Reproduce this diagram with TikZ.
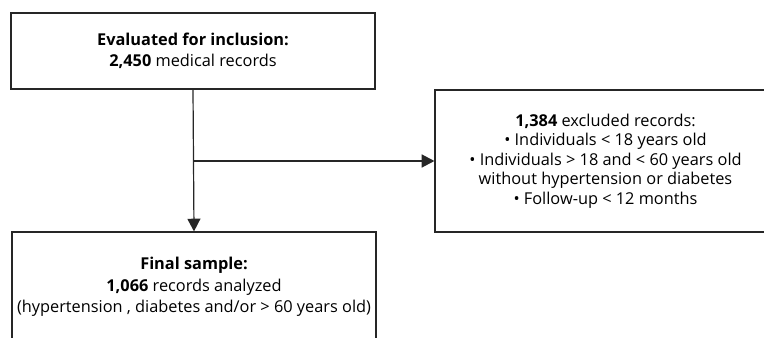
\documentclass[tikz,border=0pt]{standalone}
\usepackage{fontspec}
\setmainfont{Open Sans}
\usetikzlibrary{arrows.meta}
\begin{document}
\begin{tikzpicture}[x=0.75pt,y=-0.75pt,
  box/.style={draw=black!85, line width=0.9pt, align=center, inner sep=0pt, font=\fontsize{12.25}{16.1}\selectfont},
  conn/.style={draw=black!85, line width=0.9pt},
  arr/.style={conn, -{Triangle[length=9.5pt,width=9.75pt]}}]
\useasboundingbox (0,0) rectangle (764,338);
\clip (0,0) rectangle (764,338);
\node[box, minimum width=273pt, minimum height=57pt] (eval) at (193,51)
  {\textbf{Evaluated for inclusion:}\\\textbf{2,450} medical records};
\node[box, minimum width=273pt, minimum height=82.5pt] (final) at (194,287)
  {\textbf{Final sample:}\\\textbf{1,066} records analyzed\\(hypertension , diabetes and/or > 60 years old)};
\node[box, minimum width=255.75pt, minimum height=106.5pt, font=\fontsize{12.25}{14.7}\selectfont] (excl) at (605.5,161)
  {\textbf{1,384} excluded records:\\• Individuals < 18 years old\\• Individuals > 18 and < 60 years old\\without hypertension or diabetes\\• Follow-up < 12 months};
\coordinate (j) at (eval.south |- excl.west);
\draw[arr] (eval.south) -- (final.north);
\draw[arr] (j) -- (excl.west);
\end{tikzpicture}
\end{document}
